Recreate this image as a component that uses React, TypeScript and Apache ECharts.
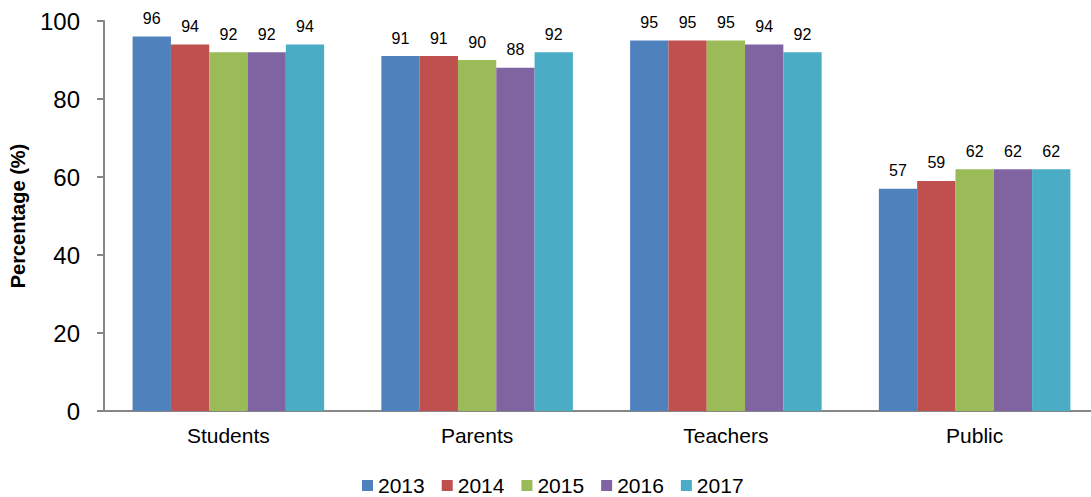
import React, { useEffect, useRef } from "react";
import * as echarts from "echarts";

const categories = ["Students", "Parents", "Teachers", "Public"];
const years = ["2013", "2014", "2015", "2016", "2017"];
const values2013 = [96, 91, 95, 57];
const values2014 = [94, 91, 95, 59];
const values2015 = [92, 90, 95, 62];
const values2016 = [92, 88, 94, 62];
const values2017 = [94, 92, 92, 62];
const yTicks = { min: 0, max: 100, interval: 20 };

const seriesValues = [values2013, values2014, values2015, values2016, values2017];
const colors = ["#4F81BD", "#C0504D", "#9BBB59", "#8064A2", "#4BACC6"];
const FONT = "Arial, 'Liberation Sans', sans-serif";
const AXIS_GRAY = "#868686";

export default function App() {
  const ref = useRef<HTMLDivElement>(null);

  useEffect(() => {
    if (!ref.current) return;
    const chart = echarts.init(ref.current, null, { renderer: "svg" });
    chart.setOption({
      animation: false,
      textStyle: { fontFamily: FONT },
      color: colors,
      // plot area runs slightly past the right edge of the canvas
      grid: {
        left: 104,
        width: 995,
        top: 21,
        bottom: 86,
        containLabel: false,
        outerBoundsMode: "none",
      },
      legend: {
        data: years,
        left: 357,
        top: 470,
        itemWidth: 11,
        itemHeight: 11,
        itemGap: 17,
        icon: "rect",
        textStyle: { fontFamily: FONT, fontSize: 21, color: "#000" },
      },
      xAxis: {
        type: "category",
        data: categories,
        axisLine: { show: true, lineStyle: { color: AXIS_GRAY, width: 2 } },
        axisTick: { show: false },
        axisLabel: { color: "#000", fontSize: 21, fontFamily: FONT, margin: 14 },
      },
      yAxis: {
        type: "value",
        min: yTicks.min,
        max: yTicks.max,
        interval: yTicks.interval,
        name: "Percentage (%)",
        nameLocation: "middle",
        nameGap: 76,
        nameTextStyle: { fontSize: 20, fontWeight: "bold", color: "#000", fontFamily: FONT },
        axisLine: { show: true, lineStyle: { color: AXIS_GRAY, width: 2 } },
        axisTick: { show: true, length: 7, lineStyle: { color: AXIS_GRAY, width: 2 } },
        splitLine: { show: false },
        axisLabel: { color: "#000", fontSize: 24, fontFamily: FONT, margin: 24 },
      },
      series: years.map((y, i) => ({
        name: y,
        type: "bar",
        data: seriesValues[i],
        barGap: "0%",
        barCategoryGap: "23%",
        itemStyle: { color: colors[i] },
        label: {
          show: true,
          position: "top",
          distance: 10,
          fontSize: 16,
          fontFamily: FONT,
          color: "#000",
        },
      })),
    });
    return () => chart.dispose();
  }, []);

  return <div ref={ref} style={{ width: 1091, height: 497, position: "absolute", left: 0, top: 0 }} />;
}
